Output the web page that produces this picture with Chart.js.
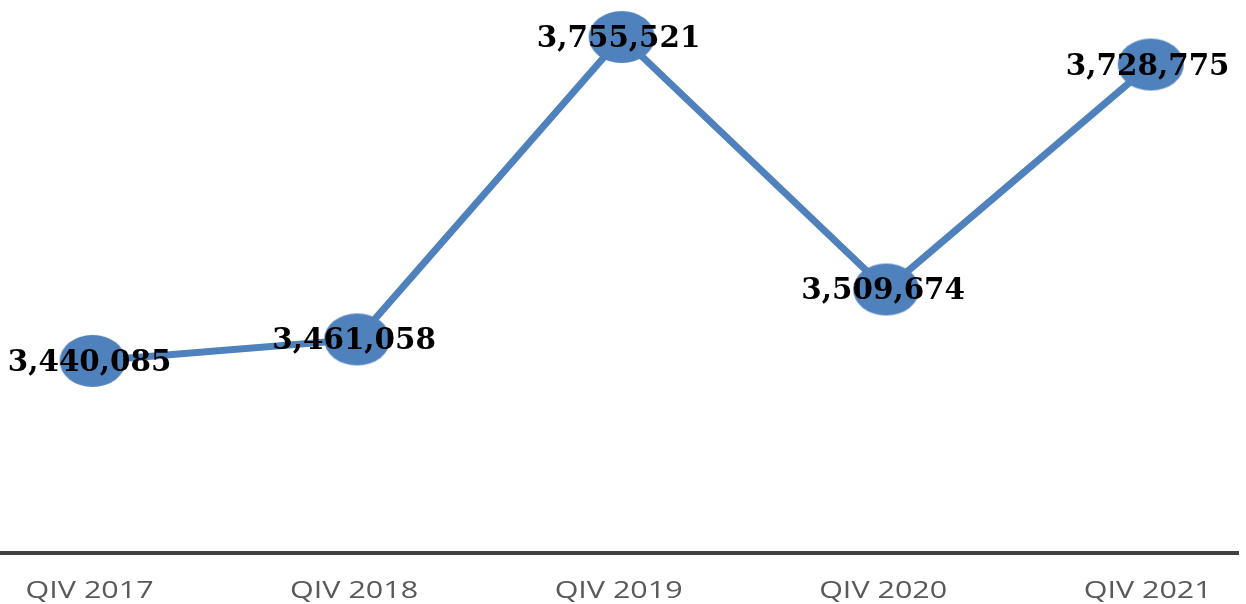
<!DOCTYPE html>
<html>
<head>
<meta charset="utf-8">
<script src="https://cdn.jsdelivr.net/npm/chart.js@4"></script>
<style>
  html, body { margin: 0; padding: 0; background: #fff; }
  #wrap { width: 1246px; height: 604px; position: relative; }
</style>
</head>
<body>
<div id="wrap"><canvas id="myChart"></canvas></div>
<script>
// data
const categories = ['QIV 2017', 'QIV 2018', 'QIV 2019', 'QIV 2020', 'QIV 2021'];
const values = [3440085, 3461058, 3755521, 3509674, 3728775];

const blue = '#4F81BD';

// ellipse marker used as point style
const marker = document.createElement('canvas');
marker.width = 68;
marker.height = 54;
const mctx = marker.getContext('2d');
mctx.fillStyle = blue;
mctx.beginPath();
mctx.ellipse(34, 27, 33, 26, 0, 0, Math.PI * 2);
mctx.fill();

function fmt(v) {
    return v.toLocaleString('en-US');
}

// value labels + category labels, stretched a bit sideways like the original
const labelPlugin = {
    id: 'labels',
    afterDatasetsDraw(chart) {
        const ctx = chart.ctx;
        const meta = chart.getDatasetMeta(0);
        ctx.save();
        ctx.fillStyle = '#000';
        ctx.font = 'bold 30px "DejaVu Serif"';
        ctx.textAlign = 'center';
        ctx.textBaseline = 'alphabetic';
        meta.data.forEach((pt, i) => {
            ctx.save();
            ctx.translate(pt.x - 3, pt.y + 10);
            ctx.scale(0.98, 1);
            ctx.fillText(fmt(values[i]), 0, 0);
            ctx.restore();
        });

        const xs = chart.scales.x;
        ctx.fillStyle = '#595959';
        ctx.font = '24px "Open Sans"';
        categories.forEach((c, i) => {
            ctx.save();
            ctx.translate(xs.getPixelForValue(i) - 3, 598);
            ctx.scale(1.27, 1);
            ctx.fillText(c, 0, 0);
            ctx.restore();
        });
        ctx.restore();
    }
};

const data = {
    datasets: [{
        data: values.map((v, i) => ({ x: i, y: v })),
        borderColor: blue,
        backgroundColor: blue,
        borderWidth: 7,
        pointStyle: marker,
        pointRadius: 30,
        pointHoverRadius: 30,
        tension: 0,
        clip: false
    }]
};

const config = {
    type: 'line',
    data,
    options: {
        responsive: false,
        animation: false,
        events: [],
        layout: { autoPadding: false, padding: { left: 0, right: 8, top: 0, bottom: 51 } },
        plugins: {
            legend: { display: false },
            tooltip: { enabled: false }
        },
        scales: {
            x: {
                type: 'linear',
                min: -0.35,
                max: 4.33,
                ticks: { display: false },
                grid: { display: false, drawTicks: false },
                border: { display: true, color: '#404040', width: 4 }
            },
            y: {
                display: false,
                min: 3253000,
                max: 3791600
            }
        }
    },
    plugins: [labelPlugin]
};

const cv = document.getElementById('myChart');
cv.width = 1246;
cv.height = 604;
var myChart = new Chart(cv, config);
</script>
</body>
</html>
